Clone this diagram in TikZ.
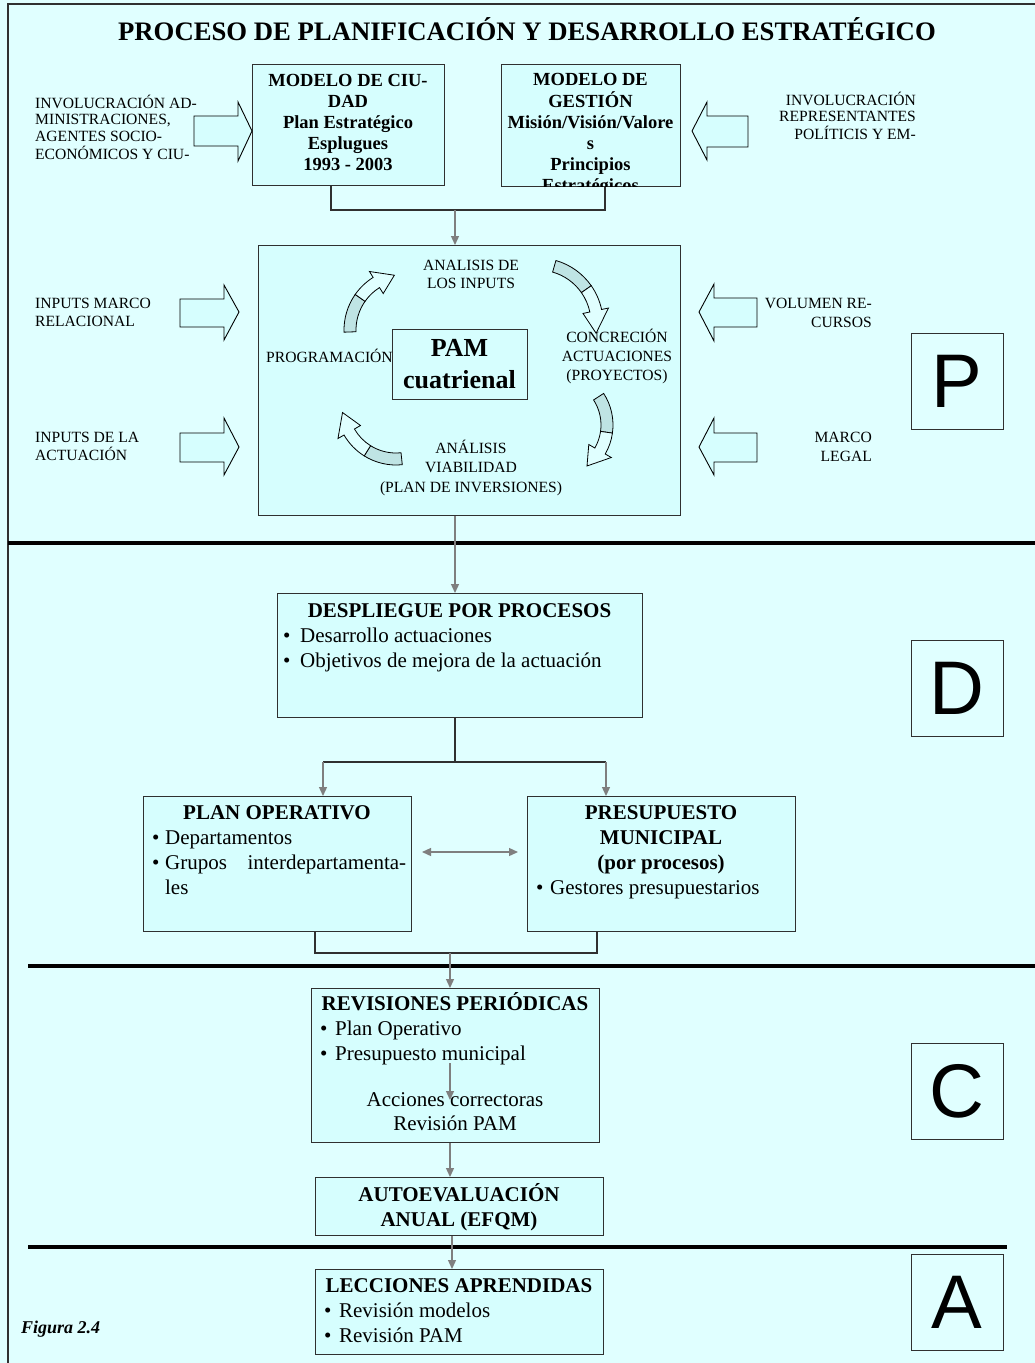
\documentclass[tikz,border=0pt]{standalone}
\usepackage{fontspec}
\setmainfont{Liberation Serif}
\newfontfamily\lettfont{Liberation Sans}
\usetikzlibrary{arrows.meta,calc}
\definecolor{bgc}{HTML}{E0FFFF}
\definecolor{boxc}{HTML}{D6FEFE}
\definecolor{shd}{HTML}{BFE4E4}
\definecolor{gr}{HTML}{7F7F7F}
\definecolor{edgec}{HTML}{303030}
\newcommand\fs[2]{\fontsize{#1}{#2}\selectfont}
\newcommand\ct[1]{\begin{tabular}[t]{@{}c@{}}#1\end{tabular}}
\newcommand\lt[1]{\begin{tabular}[t]{@{}l@{}}#1\end{tabular}}
\newcommand\rt[1]{\begin{tabular}[t]{@{}r@{}}#1\end{tabular}}
\newcommand\blist[2]{\begin{tabular}[t]{@{}l@{\hspace{#1}}l@{}}#2\end{tabular}}
\newcommand\barrow[8]{%
  \filldraw[blk] (#1,#4) -- (#2,#4) -- (#2,#6) -- (#3,#8) -- (#2,#7) -- (#2,#5) -- (#1,#5) -- cycle;}
\newcommand\carr[7]{%
  \pgfmathsetmacro\ro{#3+6}\pgfmathsetmacro\ri{#3-6}%
  \pgfmathsetmacro\hro{#3+13}\pgfmathsetmacro\hri{#3-13}%
  \filldraw[cshd] ($(#1,#2)+(#4:\ro)$) arc[start angle=#4,end angle=#5,radius=\ro]
     -- ($(#1,#2)+(#5:\ri)$) arc[start angle=#5,end angle=#4,radius=\ri] -- cycle;
  \filldraw[clight] ($(#1,#2)+(#5:\ro)$) arc[start angle=#5,end angle=#6,radius=\ro]
     -- ($(#1,#2)+(#6:\hro)$) -- ($(#1,#2)+(#7:#3)$) -- ($(#1,#2)+(#6:\hri)$)
     -- ($(#1,#2)+(#6:\ri)$) arc[start angle=#6,end angle=#5,radius=\ri] -- cycle;}
\begin{document}
\begin{tikzpicture}[x=1pt,y=-1pt,
  box/.style={draw=edgec, fill=boxc, line width=1.1pt, inner sep=0pt, anchor=north west},
  letbox/.style={draw=edgec, fill=bgc, line width=1pt, inner sep=0pt,
     minimum width=92pt, minimum height=96pt, font=\lettfont\fs{76}{76}},
  txt/.style={inner sep=0pt, anchor=base},
  txtl/.style={inner sep=0pt, anchor=base west},
  txtr/.style={inner sep=0pt, anchor=base east},
  small/.style={font=\fs{15.6}{16.5}},
  blk/.style={draw=black, fill=boxc, line width=0.9pt, line join=miter},
  cshd/.style={draw=black, fill=shd, line width=0.8pt},
  clight/.style={draw=black, fill=bgc, line width=0.8pt},
  tree/.style={draw=edgec, line width=1.3pt},
  garr/.style={draw=gr, line width=1.3pt, -{Triangle[length=9pt,width=8pt]}},
  garr2/.style={draw=gr, line width=1.3pt, {Triangle[length=9pt,width=8pt]}-{Triangle[length=9pt,width=8pt]}},
  divline/.style={draw=black, line width=4pt},
  frameline/.style={draw=edgec, line width=1.3pt}]
\fill[bgc] (0,0) rectangle (1035,1363);
\useasboundingbox (0,0) rectangle (1035,1363);
\draw[frameline] (8,1363) -- (8,4) -- (1035,4);
% dividers
\draw[divline] (8,543) -- (1035,543);
\draw[divline] (28,966) -- (1035,966);
\draw[divline] (28,1247) -- (1007,1247);
% title
\node[txt, font=\bfseries\fs{26.7}{30}] (title) at (527,40.7) {PROCESO DE PLANIFICACIÓN Y DESARROLLO ESTRATÉGICO};
% top boxes
\node[box, minimum width=192pt, minimum height=121pt] (b1) at (252,64) {};
\node[txt, font=\bfseries\fs{18.5}{21}] (b1t) at (348,86) {\ct{MODELO DE CIU-\\DAD\\Plan Estratégico\\Esplugues\\1993 - 2003}};
\node[box, minimum width=179pt, minimum height=122pt] (b2) at (501,64) {};
\begin{scope}
\clip ([shift={(0.6,-0.6)}]b2.south west) rectangle ([shift={(-0.6,0.6)}]b2.north east);
\node[txt, font=\bfseries\fs{18.5}{21}] (b2t) at (590.5,85) {\ct{MODELO DE\\GESTIÓN\\Misión/Visión/Valore\\s\\Principios\\Estratégicos}};
\end{scope}
\barrow{194}{238}{252}{116}{146}{102}{161}{131}
\barrow{748}{707}{692}{116}{147}{102}{160}{131}
\node[txtl, small] (inv1) at (35,108) {\lt{INVOLUCRACIÓN AD-\\MINISTRACIONES,\\AGENTES SOCIO-\\ECONÓMICOS Y CIU-}};
\node[txtr, small] (inv2) at (916,105) {\rt{INVOLUCRACIÓN\\REPRESENTANTES\\POLÍTICIS Y EM-}};
% PAM area
\node[box, minimum width=422pt, minimum height=270pt] (pam) at (258,245) {};
\node[box, minimum width=135pt, minimum height=70pt] (pamc) at (392,329) {};
\node[txt, font=\bfseries\fs{26}{32}] (pamt) at (459.5,356.6) {\ct{PAM\\cuatrienal}};
\node[txt, font=\fs{15.6}{18}] (an1) at (471,270) {\ct{ANALISIS DE\\LOS INPUTS}};
\node[txt, font=\fs{15.6}{19}] (conc) at (617,342) {\ct{CONCRECIÓN\\ACTUACIONES\\(PROYECTOS)}};
\node[txtl, font=\fs{15.6}{18}] (prog) at (266,362) {PROGRAMACIÓN};
\node[txt, font=\fs{15.6}{19.5}] (an2) at (471,453) {\ct{ANÁLISIS\\VIABILIDAD\\(PLAN DE INVERSIONES)}};
\carr{406}{330}{56}{178}{215}{238}{258}
\carr{538}{323}{59}{286}{325}{348}{370}
\carr{555}{425}{52}{327}{368}{390}{412}
\carr{396}{405}{54}{84}{122}{150}{172}
\barrow{180}{224}{239}{299}{327}{285}{340}{312}
\barrow{180}{224}{239}{433}{462}{418}{475}{447}
\barrow{757}{714}{699}{298}{327}{284}{341}{312}
\barrow{757}{714}{699}{433}{462}{418}{475}{447}
\node[txtl, font=\fs{15.6}{18}] (inp1) at (35,308) {\lt{INPUTS MARCO\\RELACIONAL}};
\node[txtl, font=\fs{15.6}{18}] (inp2) at (35,442) {\lt{INPUTS DE LA\\ACTUACIÓN}};
\node[txtr, font=\fs{15.6}{19}] (vol) at (872,308) {\rt{VOLUMEN RE-\\CURSOS}};
\node[txtr, font=\fs{15.6}{19}] (leg) at (872,442) {\rt{MARCO\\LEGAL}};
\node[letbox] (P) at (957,381) {P};
% D section
\node[box, minimum width=365pt, minimum height=124pt] (desp) at (277,593) {};
\node[txt, font=\bfseries\fs{21}{25}] (despt) at (459.5,617) {DESPLIEGUE POR PROCESOS};
\node[txtl, font=\fs{21}{25}] (despl) at (283,642) {\blist{9.6pt}{\textbullet & Desarrollo actuaciones\\ \textbullet & Objetivos de mejora de la actuación}};
\node[box, minimum width=268pt, minimum height=135pt] (plan) at (143,796) {};
\node[txt, font=\bfseries\fs{21}{25}] (plant) at (277,819) {PLAN OPERATIVO};
\node[txtl, font=\fs{21}{25}] (planl) at (152,844) {\blist{5.6pt}{\textbullet & Departamentos\\ \textbullet & \makebox[241pt][s]{Grupos interdepartamenta-}\\ & les}};
\node[box, minimum width=268pt, minimum height=135pt] (pres) at (527,796) {};
\node[txt, font=\bfseries\fs{21}{25}] (prest) at (661,819) {\ct{PRESUPUESTO\\MUNICIPAL\\(por procesos)}};
\node[txtl, font=\fs{21}{25}] (presl) at (536,894) {\blist{6.6pt}{\textbullet & Gestores presupuestarios}};
\node[letbox] (D) at (957,688.5) {D};
% C section
\node[box, minimum width=288pt, minimum height=154pt] (rev) at (311,988) {};
\node[txt, font=\bfseries\fs{21}{25}] (revt) at (455,1010) {REVISIONES PERIÓDICAS};
\node[txtl, font=\fs{21}{25}] (revl) at (320,1035) {\blist{7.6pt}{\textbullet & Plan Operativo\\ \textbullet & Presupuesto municipal}};
\node[txt, font=\fs{21}{24}] (revc) at (455,1106) {\ct{Acciones correctoras\\Revisión PAM}};
\node[box, minimum width=288pt, minimum height=58pt] (auto) at (315,1177) {};
\node[txt, font=\bfseries\fs{21}{25}] (autot) at (459,1201) {\ct{AUTOEVALUACIÓN\\ANUAL (EFQM)}};
\node[letbox] (C) at (957,1091.5) {C};
% A section
\node[box, minimum width=288pt, minimum height=85pt] (lecc) at (315,1269) {};
\node[txt, font=\bfseries\fs{21}{25}] (lecct) at (459,1292) {LECCIONES APRENDIDAS};
\node[txtl, font=\fs{21}{25}] (leccl) at (324,1317) {\blist{7.6pt}{\textbullet & Revisión modelos\\ \textbullet & Revisión PAM}};
\node[letbox] (A) at (957,1302.5) {A};
\node[txtl, font=\bfseries\itshape\fs{18}{20}] (fig) at (21,1333) {Figura 2.4};
% connectors
\coordinate (j1) at (455,210);
\draw[tree] ($(b1.south west)+(79,0)$) |- (j1) -| ($(b2.south west)+(104,0)$);
\draw[garr] (j1) -- (j1 |- pam.north);
\draw[garr] (pam.south -| j1) -- (desp.north -| j1);
\coordinate (j2) at (455,762);
\coordinate (j2l) at (323,762);
\coordinate (j2r) at (606,762);
\draw[tree] (desp.south -| j2) -- (j2);
\draw[tree] (j2l) -- (j2r);
\draw[garr] (j2l) -- (j2l |- plan.north);
\draw[garr] (j2r) -- (j2r |- pres.north);
\coordinate (da1) at (422,852);
\coordinate (da2) at (518,852);
\draw[garr2] (da1) -- (da2);
\coordinate (j3) at (450,953);
\draw[tree] ($(plan.south west)+(172,0)$) |- (j3) -| ($(pres.south west)+(70,0)$);
\draw[garr] (j3) -- (j3 |- rev.north);
\coordinate (ri1) at (450,1063);
\coordinate (ri2) at (450,1100);
\draw[garr] (ri1) -- (ri2);
\draw[garr] (rev.south -| j3) -- (j3 |- auto.north);
\coordinate (j4) at (452,1235);
\draw[garr] (auto.south -| j4) -- (j4 |- lecc.north);
\end{tikzpicture}
\end{document}
